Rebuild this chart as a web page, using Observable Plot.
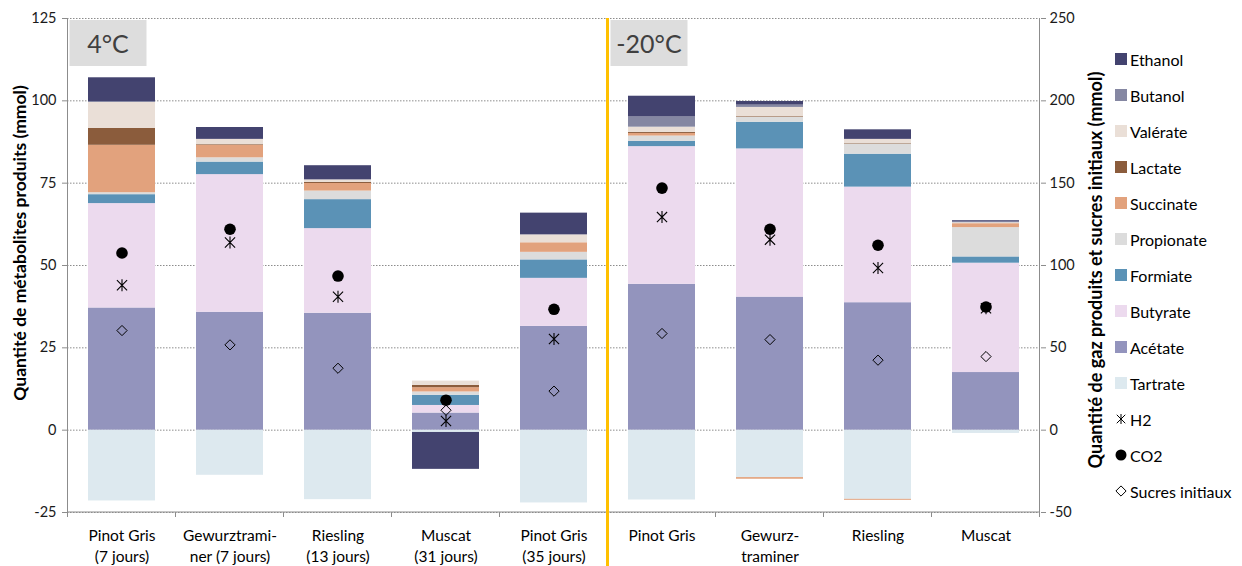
<!DOCTYPE html>
<html><head><meta charset="utf-8">
<script src="https://cdn.jsdelivr.net/npm/d3@7"></script>
<script src="https://cdn.jsdelivr.net/npm/@observablehq/plot@0.6"></script>
<style>
body{margin:0;background:#fff;font-family:Lato,"Open Sans",sans-serif;}
#chart{position:relative;width:1242px;height:566px;overflow:hidden;}
</style></head><body><div id="chart"></div>
<script>
// ---- data ----
const categories = ["Pinot Gris\n(7 jours)", "Gewurztrami-\nner (7 jours)", "Riesling\n(13 jours)", "Muscat\n(31 jours)", "Pinot Gris\n(35 jours)", "Pinot Gris", "Gewurz-\ntraminer", "Riesling", "Muscat"];
const temperatures = ["4°C", "4°C", "4°C", "4°C", "4°C", "-20°C", "-20°C", "-20°C", "-20°C"];
const seriesNames = ["Tartrate", "Acétate", "Butyrate", "Formiate", "Propionate", "Succinate", "Lactate", "Valérate", "Butanol", "Ethanol"];
const seriesColors = ["#dde9ef", "#9394bd", "#ecdaee", "#5b92b6", "#dcdcdc", "#e2a27d", "#8b5c3c", "#eadfd7", "#8587a2", "#43436f"];

const tartrate   = [-21.5, -13.7, -21.1, -0.7, -22.1, -21.2, -14.4, -21.0, -1.0];
const acetate    = [37.1, 35.8, 35.5, 5.2, 31.5, 44.3, 40.4, 38.7, 17.5];
const butyrate   = [31.7, 41.8, 25.7, 2.3, 14.6, 41.8, 45.0, 35.1, 33.2];
const formiate   = [2.7, 3.8, 8.8, 3.1, 5.6, 1.6, 8.1, 10.0, 1.9];
const propionate = [0.6, 1.3, 2.6, 1.0, 2.3, 1.6, 1.5, 3.1, 8.9];
const succinate  = [14.4, 3.8, 2.3, 1.3, 2.9, 0.8, -0.5, -0.3, 1.2];
const lactate    = [5.1, 0.2, 0.3, 0.7, 0, 0.3, 0.2, 0.2, 0];
const valerate   = [7.9, 1.6, 0.8, 1.3, 2.4, 1.6, 2.8, 1.2, 0.3];
const butanol    = [0.3, 0, 0, 0, 0, 3.1, 0.7, 0, 0.2];
const ethanol    = [7.2, 3.6, 4.3, -11.2, 6.6, 6.3, 1.1, 2.9, 0.4];

// gases and initial sugars, right axis units (mmol)
const gasNames = ["H2", "CO2", "Sucres initiaux"];
const h2     = [88, 114, 81, 5.6, 55.4, 129.4, 115.7, 98.5, 74];
const co2    = [107.6, 122, 93.6, 18.2, 73.4, 147, 122, 112.3, 74.8];
const sucres = [60.5, 51.8, 37.6, 12.1, 23.7, 58.7, 55, 42.5, 44.7];

const leftTicks = [-25, 0, 25, 50, 75, 100, 125];
const rightTickLabels = ["-50", "0", "50", "100", "150", "200", "250"];
const rightPerLeft = 2; // right axis = 2 x left axis

// ---- tables ----
const seriesValues = [tartrate, acetate, butyrate, formiate, propionate, succinate, lactate, valerate, butanol, ethanol];
const barRows = [];
seriesNames.forEach((s, k) => seriesValues[k].forEach((v, i) => { if (v !== 0) barRows.push({cat: i, series: s, value: v}); }));
const gasValues = [h2, co2, sucres];
const gasRows = [];
gasNames.forEach((g, k) => gasValues[k].forEach((v, i) => gasRows.push({cat: i, gas: g, value: v})));

const starSymbol = {draw(ctx, size) {
  const r = Math.sqrt(size / Math.PI);
  const a = r * 0.85;
  ctx.moveTo(-a, -a); ctx.lineTo(a, a);
  ctx.moveTo(-a, a); ctx.lineTo(a, -a);
  ctx.moveTo(0, -r); ctx.lineTo(0, r);
}};

const FONT = "Lato, 'Open Sans', sans-serif";
const chart = Plot.plot({
  width: 1242, height: 566,
  marginLeft: 67, marginRight: 202, marginTop: 18, marginBottom: 54,
  style: {fontFamily: FONT, fontSize: "14px", background: "white", color: "#000", overflow: "visible"},
  x: {domain: d3.range(categories.length), paddingInner: 0.38, paddingOuter: 0.19, axis: null},
  y: {domain: [-25, 125], axis: null},
  color: {domain: seriesNames, range: seriesColors},
  marks: [
    Plot.gridY(leftTicks, {stroke: "#8c8c8c", strokeOpacity: 1, strokeDasharray: "1.5,1.5"}),
    Plot.barY(barRows, {x: "cat", y: "value", fill: "series", order: seriesNames}),
    Plot.dot(gasRows.filter(d => d.gas === "Sucres initiaux"), {x: "cat", y: d => d.value / rightPerLeft, symbol: "diamond2", r: 4.6, stroke: "#000", strokeWidth: 1, fill: "none"}),
    Plot.dot(gasRows.filter(d => d.gas === "CO2"), {x: "cat", y: d => d.value / rightPerLeft, symbol: "circle", r: 5.8, fill: "#000", stroke: "none"}),
    Plot.dot(gasRows.filter(d => d.gas === "H2"), {x: "cat", y: d => d.value / rightPerLeft, symbol: starSymbol, r: 6, stroke: "#000", strokeWidth: 1.1, fill: "none"}),
    Plot.axisY(leftTicks, {anchor: "left", tickSize: 5, tickPadding: 6, fontSize: 14.5, label: null, stroke: "#8c8c8c", fill: "#1a1a1a", tickFormat: d => String(d)}),
    Plot.axisY(leftTicks, {anchor: "right", tickSize: 5, tickPadding: 4, fontSize: 14.5, label: null, stroke: "#8c8c8c", fill: "#1a1a1a", tickFormat: d => rightTickLabels[leftTicks.indexOf(d)]}),
    Plot.axisX(d3.range(categories.length), {tickFormat: i => categories[i], tickSize: 0, tickPadding: 14, fontSize: 15.5, lineHeight: 1.35, label: null, fill: "#000"})
  ]
});
document.getElementById("chart").appendChild(chart);

// ---- decorations derived from the scales ----
const svg = d3.select(chart);
const xs = chart.scale("x"), ys = chart.scale("y");
const step = xs.step, bw = xs.bandwidth;
const boundary = i => (i < categories.length ? xs.apply(i) + bw / 2 - step / 2 : xs.apply(categories.length - 1) + bw / 2 + step / 2);
const yTop = ys.apply(125), yBot = ys.apply(-25);
const xL = boundary(0), xR = boundary(categories.length);
const deco = svg.append("g");
deco.append("line").attr("x1", xL).attr("x2", xL).attr("y1", yTop).attr("y2", yBot).attr("stroke", "#8c8c8c");
deco.append("line").attr("x1", xR).attr("x2", xR).attr("y1", yTop).attr("y2", yBot).attr("stroke", "#8c8c8c");
deco.append("line").attr("x1", xL).attr("x2", xR).attr("y1", yBot).attr("y2", yBot).attr("stroke", "#8c8c8c");
for (let i = 0; i <= categories.length; i++) {
  deco.append("line").attr("x1", boundary(i)).attr("x2", boundary(i)).attr("y1", yBot).attr("y2", yBot + 5).attr("stroke", "#8c8c8c");
}
// separation between temperatures
const firstCold = temperatures.indexOf("-20°C");
const xSep = boundary(firstCold);
deco.append("line").attr("x1", xSep).attr("x2", xSep).attr("y1", yTop).attr("y2", 566).attr("stroke", "#ffc000").attr("stroke-width", 3);
// temperature boxes
[["4°C", xL + 2], ["-20°C", xSep + 3]].forEach(([t, x0]) => {
  deco.append("rect").attr("x", x0).attr("y", yTop + 2).attr("width", 77).attr("height", 46).attr("fill", "#dddddd");
  deco.append("text").attr("x", x0 + 38.5).attr("y", yTop + 25).attr("text-anchor", "middle").attr("dominant-baseline", "central")
    .attr("font-size", 25).attr("fill", "#404040").attr("font-family", FONT).text(t);
});
// axis titles
deco.append("text").attr("transform", `translate(19,${243}) rotate(-90)`).attr("text-anchor", "middle").attr("dominant-baseline", "central")
  .attr("font-size", 17.5).attr("font-weight", "bold").attr("font-family", FONT).text("Quantité de métabolites produits (mmol)");
deco.append("text").attr("transform", `translate(1095,${270}) rotate(-90)`).attr("text-anchor", "middle").attr("dominant-baseline", "central")
  .attr("font-size", 18).attr("font-weight", "bold").attr("font-family", FONT).text("Quantité de gaz produits et sucres initiaux (mmol)");
// legend
const lg = svg.append("g").attr("font-family", FONT).attr("font-size", 16).attr("text-anchor", "start");
const legendItems = seriesNames.slice().reverse().map((s) => ({label: s, kind: "swatch", color: seriesColors[seriesNames.indexOf(s)]}))
  .concat([{label: "H2", kind: "star"}, {label: "CO2", kind: "circle"}, {label: "Sucres initiaux", kind: "diamond"}]);
legendItems.forEach((it, k) => {
  const cy = 59 + 36 * k, cx = 1121;
  if (it.kind === "swatch") lg.append("rect").attr("x", cx - 6).attr("y", cy - 6).attr("width", 12).attr("height", 12).attr("fill", it.color);
  else if (it.kind === "star") lg.append("path").attr("transform", `translate(${cx},${cy})`).attr("d", d3.symbol(starSymbol, Math.PI * 25)()).attr("stroke", "#000").attr("fill", "none");
  else if (it.kind === "circle") lg.append("circle").attr("cx", cx).attr("cy", cy).attr("r", 5.5).attr("fill", "#000");
  else lg.append("path").attr("transform", `translate(${cx},${cy})`).attr("d", d3.symbol(d3.symbolDiamond2, Math.PI * 4.6 * 4.6)()).attr("stroke", "#000").attr("fill", "none");
  lg.append("text").attr("x", 1130).attr("y", cy).attr("dominant-baseline", "central").attr("text-anchor", "start").attr("fill", "#000").text(it.label);
});
</script></body></html>
